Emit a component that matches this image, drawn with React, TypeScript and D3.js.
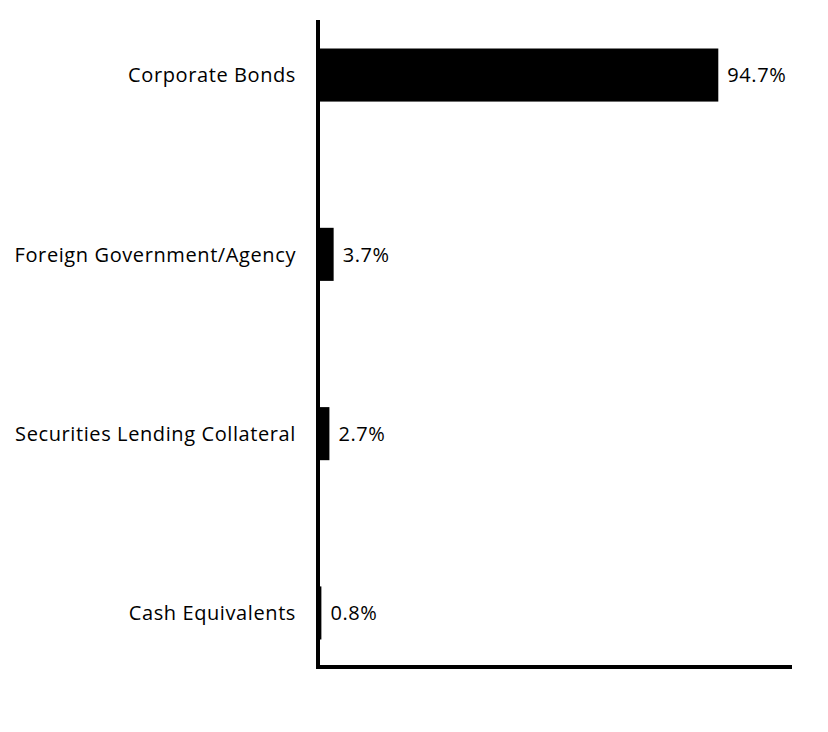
import React from "react";
import * as d3 from "d3";

const categories = ["Corporate Bonds", "Foreign Government/Agency", "Securities Lending Collateral", "Cash Equivalents"];
const values = [94.7, 3.7, 2.7, 0.8];
const valueLabels = ["94.7%", "3.7%", "2.7%", "0.8%"];

const W = 828;
const H = 732;

export default function App() {
  const x0 = 318;
  const x = d3.scaleLinear().domain([0, 94.7]).range([x0, 718.3]);
  const y = d3.scaleBand<string>().domain(categories).range([20, 668]).paddingInner(0.704).paddingOuter(0.159);
  const font = "'Open Sans', 'Noto Sans', sans-serif";
  return (
    <svg width={W} height={H} style={{ position: "absolute", left: 0, top: 0, background: "#fff" }}>
      {categories.map((c, i) => {
        const yy = y(c)!;
        const bw = y.bandwidth();
        return (
          <g key={c}>
            <rect x={x0} y={yy} width={x(values[i]) - x0} height={bw} fill="#000" />
            <text x={296} y={yy + bw / 2} dy="0.37em" textAnchor="end" fontFamily={font} fontSize={20} letterSpacing={0.6} fill="#000">{c}</text>
            <text x={x(values[i]) + 9} y={yy + bw / 2} dy="0.37em" textAnchor="start" fontFamily={font} fontSize={20} letterSpacing={0.6} fill="#000">{valueLabels[i]}</text>
          </g>
        );
      })}
      <line x1={318} x2={318} y1={20} y2={669} stroke="#000" strokeWidth={4} />
      <line x1={316} x2={792} y1={667} y2={667} stroke="#000" strokeWidth={4} />
    </svg>
  );
}
